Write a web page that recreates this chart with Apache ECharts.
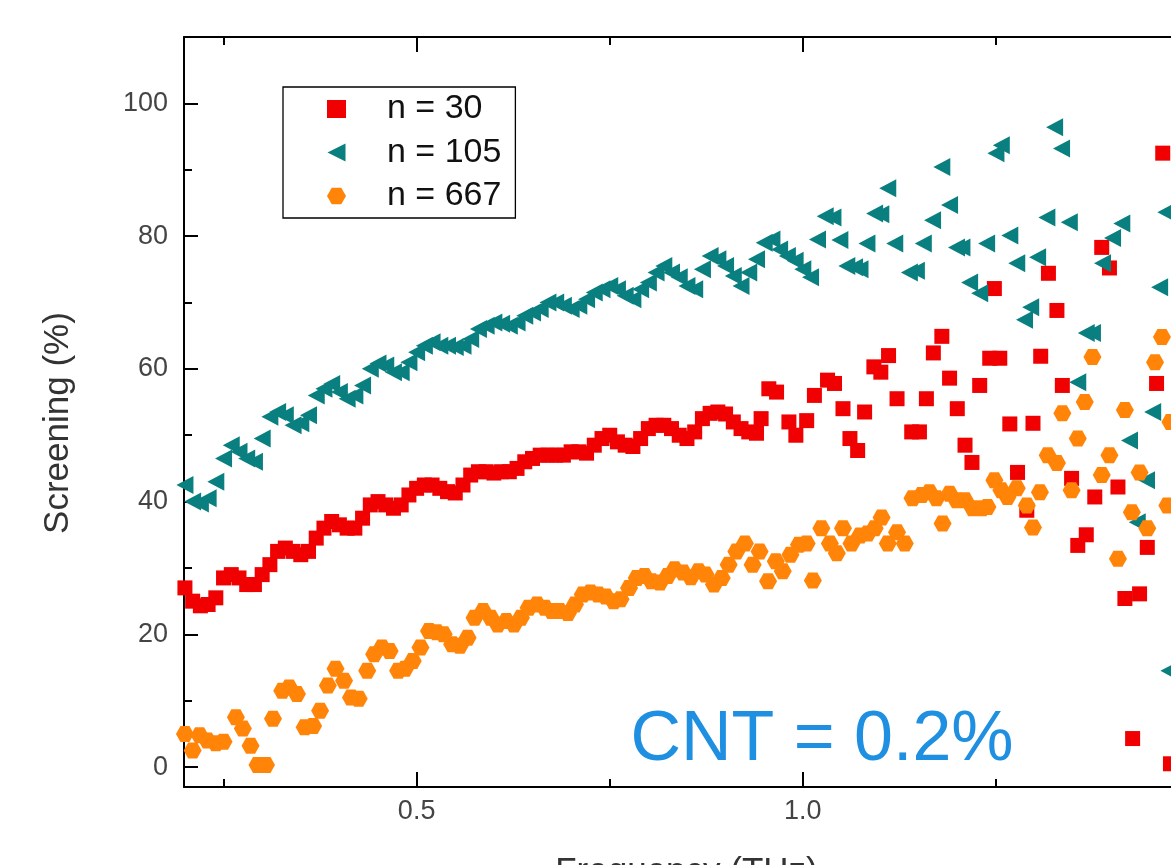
<!DOCTYPE html>
<html>
<head>
<meta charset="utf-8">
<script src="https://cdn.jsdelivr.net/npm/echarts@6/dist/echarts.min.js"></script>
<style>
  html, body { margin: 0; padding: 0; background: #ffffff; }
  #chart { width: 1171px; height: 865px; }
</style>
</head>
<body>
<div id="chart"></div>
<script>
// Screening (%) versus frequency (THz) for three samples, CNT loading 0.2 %

const seriesNames = ['n = 30', 'n = 105', 'n = 667'];

const freqN30 = [
  0.20, 0.21, 0.22, 0.23, 0.24, 0.25, 0.26, 0.27, 0.28, 0.29,
  0.30, 0.31, 0.32, 0.33, 0.34, 0.35, 0.36, 0.37, 0.38, 0.39,
  0.40, 0.41, 0.42, 0.43, 0.44, 0.45, 0.46, 0.47, 0.48, 0.49,
  0.50, 0.51, 0.52, 0.53, 0.54, 0.55, 0.56, 0.57, 0.58, 0.59,
  0.60, 0.61, 0.62, 0.63, 0.64, 0.65, 0.66, 0.67, 0.68, 0.69,
  0.70, 0.71, 0.72, 0.73, 0.74, 0.75, 0.76, 0.77, 0.78, 0.79,
  0.80, 0.81, 0.82, 0.83, 0.84, 0.85, 0.86, 0.87, 0.88, 0.89,
  0.90, 0.91, 0.92, 0.93, 0.94,
  0.946, 0.956, 0.966, 0.982, 0.991, 1.005, 1.015, 1.032, 1.041, 1.052,
  1.061, 1.071, 1.080, 1.092, 1.101, 1.111, 1.122, 1.141, 1.151, 1.160,
  1.169, 1.180, 1.190, 1.200, 1.210, 1.219, 1.229, 1.242, 1.248, 1.255,
  1.268, 1.278, 1.290, 1.298, 1.308, 1.318, 1.329, 1.336, 1.348, 1.356,
  1.367, 1.378, 1.387, 1.397, 1.408, 1.417, 1.427, 1.436, 1.446, 1.458,
  1.466, 1.476
];
const screenN30 = [
  27, 25, 24.3, 24.5, 25.5, 28.5, 29, 28.5, 27.5, 27.5,
  29, 30.5, 32.5, 33, 32.5, 32, 32.5, 34.5, 36, 37,
  36.5, 36, 36, 37.5, 39.5, 40, 39.5, 39, 39.5, 41,
  42, 42.5, 42.5, 42, 41.5, 41.3, 42.5, 44, 44.5, 44.5,
  44.3, 44.5, 44.5, 45, 46, 46.5, 47, 47, 47, 47,
  47.5, 47.5, 47.3, 48.5, 49.5, 50, 49, 48.5, 48.3, 49.5,
  51, 51.5, 51.5, 51, 50, 49.5, 50.5, 52.5, 53.3, 53.5,
  53.2, 52, 51, 50.5, 50.3,
  52.5, 57, 56.5, 52, 50, 52.2, 56, 58.3, 57.8, 54,
  49.5, 47.7, 53.5, 60.3, 59.5, 62, 55.5, 50.5, 50.5, 55.5,
  62.4, 64.9, 58.6, 54, 48.5, 45.9, 57.5, 61.6, 72.1, 61.6,
  51.7, 44.4, 38.7, 51.8, 61.9, 74.4, 68.8, 57.5, 43.5, 33.4,
  35, 40.7, 78.3, 75.2, 42.2, 25.4, 4.3, 26.1, 33.1, 57.8,
  92.5, 0.5
];

const freqN105 = [
  0.20, 0.21, 0.22, 0.23, 0.24, 0.25, 0.26, 0.27, 0.28, 0.29,
  0.30, 0.31, 0.32, 0.33, 0.34, 0.35, 0.36, 0.37, 0.38, 0.39,
  0.40, 0.41, 0.42, 0.43, 0.44, 0.45, 0.46, 0.47, 0.48, 0.49,
  0.50, 0.51, 0.52, 0.53, 0.54, 0.55, 0.56, 0.57, 0.58, 0.59,
  0.60, 0.61, 0.62, 0.63, 0.64, 0.65, 0.66, 0.67, 0.68, 0.69,
  0.70, 0.71, 0.72, 0.73, 0.74, 0.75, 0.76, 0.77, 0.78, 0.79,
  0.80, 0.81, 0.82, 0.83, 0.84, 0.85, 0.86, 0.87, 0.88, 0.89,
  0.90, 0.91, 0.92, 0.93, 0.94, 0.95, 0.96, 0.97, 0.98, 0.99,
  1.00,
  1.010, 1.019, 1.029, 1.039, 1.048, 1.057, 1.067, 1.074, 1.083, 1.093,
  1.101, 1.110, 1.119, 1.138, 1.147, 1.156, 1.168, 1.180, 1.190, 1.199,
  1.206, 1.216, 1.229, 1.238, 1.250, 1.257, 1.268, 1.277, 1.287, 1.295,
  1.304, 1.316, 1.326, 1.335, 1.345, 1.356, 1.367, 1.375, 1.388, 1.401,
  1.413, 1.423, 1.433, 1.445, 1.453, 1.462, 1.470, 1.474
];
const screenN105 = [
  42.5, 40, 39.7, 40.5, 43, 46.5, 48.5, 47.5, 46.5, 46,
  49.5, 52.8, 53.5, 53, 51.5, 51.8, 53, 56, 57, 57.7,
  56.5, 55.5, 56, 57.5, 60, 60.8, 60.5, 59.5, 59.5, 61,
  62.5, 63.5, 64, 63.5, 63.5, 63.3, 63.5, 64.5, 66, 66.5,
  67, 66.8, 66.5, 67, 68, 68.5, 69, 70, 70, 69.5,
  69, 69.5, 70.5, 71.5, 72, 72.5, 72, 71, 70.5, 72,
  73, 74.5, 75.5, 74.5, 73.8, 72.5, 72, 75, 77, 76.5,
  75.5, 74, 72.5, 74.5, 76.5, 79, 79.5, 78, 77, 76.3,
  75,
  73.8, 79.5, 83, 82.8, 79.4, 75.5, 75.3, 75, 78.9, 83.4,
  83.3, 87.2, 78.9, 74.5, 74.8, 78.9, 82.4, 90.4, 84.7, 78.3,
  78.3, 73, 71.4, 78.9, 92.5, 93.7, 80.1, 75.9, 67.4, 69.3,
  76.8, 82.8, 96.4, 93.2, 82.1, 58, 65.4, 65.4, 75.9, 79.7,
  81.9, 49.2, 36.9, 43.2, 53.5, 72.3, 83.6, 14.5
];

const freqN667 = [
  0.200, 0.210, 0.219, 0.229, 0.240, 0.250, 0.266, 0.275, 0.285, 0.294,
  0.305, 0.314, 0.326, 0.335, 0.345, 0.355, 0.366, 0.375, 0.385, 0.395,
  0.406, 0.415, 0.425, 0.436, 0.445, 0.455, 0.465, 0.476, 0.485, 0.495,
  0.505, 0.516, 0.526, 0.535, 0.546, 0.556, 0.566, 0.575, 0.586, 0.596,
  0.605, 0.616, 0.626, 0.635, 0.645, 0.656, 0.666, 0.675, 0.685, 0.696,
  0.705, 0.715, 0.725, 0.735, 0.745, 0.755, 0.764, 0.775, 0.785, 0.795,
  0.804, 0.815, 0.825, 0.834, 0.845, 0.855, 0.865, 0.874, 0.885, 0.895,
  0.904, 0.914, 0.925, 0.935, 0.944, 0.955, 0.965, 0.974, 0.984, 0.995,
  1.005, 1.013, 1.024, 1.035, 1.044, 1.052, 1.063, 1.074, 1.084, 1.093,
  1.102, 1.110, 1.122, 1.132, 1.142, 1.154, 1.164, 1.173, 1.181, 1.190,
  1.199, 1.210, 1.220, 1.232, 1.239, 1.248, 1.257, 1.265, 1.277, 1.290,
  1.298, 1.307, 1.317, 1.329, 1.336, 1.348, 1.356, 1.365, 1.375, 1.387,
  1.397, 1.408, 1.417, 1.426, 1.436, 1.446, 1.456, 1.465, 1.472, 1.476
];
const screenN667 = [
  5, 2.5, 4.8, 4, 3.6, 3.8, 7.5, 5.8, 3.2, 0.3,
  0.3, 7.3, 11.5, 12, 11, 6, 6.2, 8.5, 12.3, 14.8,
  13, 10.5, 10.3, 14.5, 17, 18, 17.5, 14.5, 14.8, 16,
  18, 20.5, 20.3, 20, 18.5, 18.3, 19.5, 22.5, 23.5, 22.5,
  21.5, 22, 21.5, 22.5, 24, 24.5, 24, 23.5, 23.5, 23.2,
  24.5, 26, 26.3, 26, 25.7, 25, 25.3, 27, 28.5, 28.8,
  28, 27.8, 28.8, 29.8, 29.3, 28.6, 29.5, 29, 27.5, 28.5,
  30.5, 32.5, 33.7, 30.5, 32.5, 28, 31, 29.5, 32, 33.5,
  33.7, 28.1, 36, 33.7, 32.2, 36, 33.7, 34.9, 35.2, 36,
  37.6, 33.7, 35.4, 33.7, 40.5, 41, 41.4, 40.5, 36.7, 41.2,
  40.2, 40.2, 39, 39, 39.2, 43.2, 41.7, 40.7, 42, 39.4,
  36.1, 41.4, 47, 45.8, 53.3, 41.7, 49.5, 55, 61.8, 44,
  47, 31.4, 53.8, 38.4, 44.4, 36, 61, 64.8, 39.4, 52
];

// Axis ticks: labelled (long) ticks and the unlabelled ticks between them
const xLabelValues = [0.5, 1.0, 1.5];
const xMinorValues = [0.25, 0.75, 1.25];
const yLabelValues = [0, 20, 40, 60, 80, 100];
const yMinorValues = [10, 30, 50, 70, 90];

const FONT = '"Liberation Sans", Arial, sans-serif';
const X_MIN = 0.1988, X_MAX = 1.5;
const Y_MIN = -3, Y_MAX = 110;
const GRID_BOX = { left: 184, right: -18, top: 37, bottom: 78, outerBoundsMode: 'none', containLabel: false };

const pair = (xs, ys) => xs.map((x, i) => [x, ys[i]]);

const triangleLeft = 'path://M0,8 L16,0 L16,16 Z';
const hexagon = 'path://M4,0 L12,0 L16,7 L12,14 L4,14 L0,7 Z';

const frameLine = { show: true, onZero: false, lineStyle: { color: '#000', width: 2 } };
const noLine = { show: false, onZero: false };
const tickStyle = { color: '#000', width: 2 };

function xAxisDef(gridIndex, position, ticks, len, withLine, withLabels) {
  return {
    type: 'value', gridIndex: gridIndex, position: position, min: X_MIN, max: X_MAX,
    axisLine: withLine ? frameLine : noLine,
    axisTick: { show: true, inside: true, length: len, customValues: ticks, lineStyle: tickStyle },
    axisLabel: withLabels ? {
      show: true, customValues: xLabelValues, margin: 11,
      fontSize: 27, color: '#444', fontFamily: FONT,
      formatter: v => Number(v).toFixed(1)
    } : { show: false },
    splitLine: { show: false }
  };
}

function yAxisDef(gridIndex, ticks, len, withLine, withLabels) {
  return {
    type: 'value', gridIndex: gridIndex, position: 'left', min: Y_MIN, max: Y_MAX,
    axisLine: withLine ? frameLine : noLine,
    axisTick: { show: true, inside: true, length: len, customValues: ticks, lineStyle: tickStyle },
    axisLabel: withLabels ? {
      show: true, customValues: yLabelValues, margin: 16,
      fontSize: 27, color: '#444', fontFamily: FONT
    } : { show: false },
    splitLine: { show: false }
  };
}

// grid 0 carries the data, frame, labels and long ticks; grid 1 (same box) the short ticks
const xMain = xAxisDef(0, 'bottom', xLabelValues, 15, true, true);
xMain.name = 'Frequency (THz)';
xMain.nameLocation = 'middle';
xMain.nameGap = 68;
xMain.nameTextStyle = { fontSize: 35, color: '#333', fontFamily: FONT };

const yMain = yAxisDef(0, yLabelValues, 14, true, true);
yMain.name = 'Screening (%)';
yMain.nameLocation = 'middle';
yMain.nameGap = 108;
yMain.nameTextStyle = { fontSize: 35, color: '#333', fontFamily: FONT, padding: [0, 22, 0, 0] };

const chart = echarts.init(document.getElementById('chart'), null, { renderer: 'canvas' });

chart.setOption({
  animation: false,
  backgroundColor: '#ffffff',
  grid: [Object.assign({}, GRID_BOX), Object.assign({}, GRID_BOX)],
  xAxis: [
    xMain,
    xAxisDef(0, 'top', xLabelValues, 15, true, false),
    xAxisDef(1, 'bottom', xMinorValues, 8, false, false),
    xAxisDef(1, 'top', xMinorValues, 8, false, false)
  ],
  yAxis: [
    yMain,
    yAxisDef(1, yMinorValues, 8, false, false)
  ],
  legend: {
    orient: 'vertical',
    left: 283, top: 87,
    padding: [4, 14, 4, 44],
    itemWidth: 19, itemHeight: 18, itemGap: 7.5,
    borderColor: '#000', borderWidth: 1.3,
    selectedMode: false,
    data: seriesNames,
    textStyle: { fontSize: 34, lineHeight: 36, color: '#111', fontFamily: FONT, padding: [0, 0, 0, 36] }
  },
  series: [
    {
      name: seriesNames[0], type: 'scatter', xAxisIndex: 0, yAxisIndex: 0,
      data: pair(freqN30, screenN30),
      symbol: 'rect', symbolSize: 15,
      itemStyle: { color: '#f00000', opacity: 1 },
      emphasis: { disabled: true }
    },
    {
      name: seriesNames[1], type: 'scatter', xAxisIndex: 0, yAxisIndex: 0,
      data: pair(freqN105, screenN105),
      symbol: triangleLeft, symbolSize: [17, 18],
      itemStyle: { color: '#0a7f7f', opacity: 1 },
      emphasis: { disabled: true }
    },
    {
      name: seriesNames[2], type: 'scatter', xAxisIndex: 0, yAxisIndex: 0,
      data: pair(freqN667, screenN667),
      symbol: hexagon, symbolSize: [18, 16],
      itemStyle: { color: '#ff8408', opacity: 1 },
      emphasis: { disabled: true }
    }
  ],
  graphic: [
    {
      type: 'text', x: 822, y: 741, z: 10,
      style: {
        text: 'CNT = 0.2%', fill: '#1e8fe1',
        fontSize: 70, fontFamily: FONT,
        align: 'center', verticalAlign: 'middle'
      }
    }
  ]
});
</script>
</body>
</html>
